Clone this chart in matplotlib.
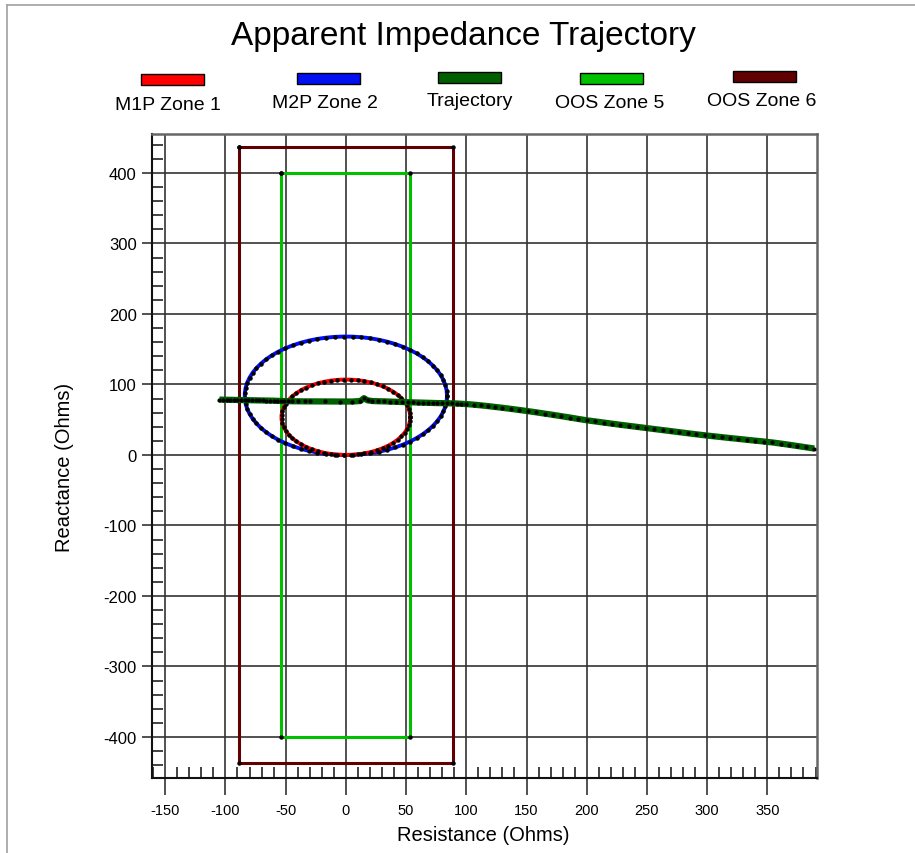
import numpy as np
import matplotlib
matplotlib.use("Agg")
import matplotlib.pyplot as plt
from matplotlib.patches import Rectangle
from matplotlib.lines import Line2D
from matplotlib.ticker import MultipleLocator

plt.rcParams['font.family'] = ['Liberation Sans', 'DejaVu Sans']
plt.rcParams['axes.unicode_minus'] = False

# mho zones: diameter along the reactance axis (ohms)
m1p_reach = 107
m2p_reach = 168

# out-of-step blinders: +/- resistance, +/- reactance (ohms)
oos5_r, oos5_x = 53.5, 400
oos6_r, oos6_x = 88.6, 437

# apparent impedance trajectory (ohms)
traj_r = [-105, -102, -99, -96, -93, -90, -87, -84, -81, -78, -75, -72, -69, -66,
          -63, -60, -57, -54, -51, -48, -45, -40, -34, -30, -17, -5, 5, 12, 15, 18,
          22, 27, 32, 37, 42, 47, 52, 56, 60, 64, 68, 72, 76, 80, 84, 88, 92, 96,
          100, 106, 112, 118, 124, 130, 137, 144, 151, 158, 165, 172, 179, 186,
          193, 200, 207, 214, 221, 228, 235, 242, 249, 256, 263, 270, 277, 284,
          291, 298, 305, 312, 319, 326, 333, 340, 347, 354, 361, 368, 375, 382, 389]
traj_x = [78.5, 78.4, 78.3, 78.2, 78.1, 78.0, 77.9, 77.8, 77.7, 77.6, 77.5, 77.4,
          77.3, 77.2, 77.1, 77.0, 76.8, 76.6, 76.4, 76.3, 76.2, 76.1, 76.0, 76.0,
          75.9, 75.8, 75.8, 76.5, 80.5, 77.5, 76.5, 76.2, 76.0, 75.7, 75.4, 75.1,
          74.8, 74.6, 74.4, 74.2, 74.0, 73.8, 73.6, 73.5, 73.4, 73.2, 73.0, 72.6,
          72.2, 71.4, 70.4, 69.3, 68.1, 66.9, 65.4, 63.8, 62.2, 60.5, 58.7, 56.9,
          55.0, 53.1, 51.1, 49.2, 47.6, 46.0, 44.4, 42.8, 41.3, 39.8, 38.3, 36.8,
          35.3, 33.8, 32.3, 30.8, 29.3, 27.9, 26.6, 25.3, 24.0, 22.8, 21.5, 20.3,
          19.1, 17.8, 16.2, 14.5, 12.7, 10.9, 9.1]

labels = ['M1P Zone 1', 'M2P Zone 2', 'Trajectory', 'OOS Zone 5', 'OOS Zone 6']
colors = ['#ff0000', '#0010f0', '#006000', '#00c000', '#600000']

fig = plt.figure(figsize=(9.15, 8.54), dpi=100)
ax = fig.add_axes([0.1661, 0.0882, 0.7265, 0.7541])


def mho(reach, n):
    t = np.linspace(0, 2 * np.pi, n)
    return reach / 2 * np.cos(t), reach / 2 + reach / 2 * np.sin(t)


def blinder(r, x):
    return [-r, r, r, -r, -r], [x, x, -x, -x, x]


# zone 6 and zone 5 rectangles
bx, by = blinder(oos6_r, oos6_x)
ax.plot(bx, by, color=colors[4], lw=2.2, zorder=3)
ax.plot(bx, by, 'o', color='black', ms=2.2, zorder=3.1)
bx, by = blinder(oos5_r, oos5_x)
ax.plot(bx, by, color=colors[3], lw=2.2, zorder=3)
ax.plot(bx, by, 'o', color='black', ms=2.2, zorder=3.1)

# mho circles
cx, cy = mho(m2p_reach, 72)
ax.plot(cx, cy, color=colors[1], lw=2.8, zorder=4)
ax.plot(cx, cy, 'o', color='black', ms=2.2, zorder=4.1)

ax.plot(traj_r, traj_x, color=colors[2], lw=4.5, solid_capstyle='butt', zorder=5)
ax.plot(traj_r, traj_x, 'o', color='black', ms=2.0, zorder=5.1)

cx, cy = mho(m1p_reach, 60)
ax.plot(cx, cy, color=colors[0], lw=2.8, zorder=4)
ax.plot(cx, cy, 'o', color='black', ms=2.2, zorder=4.1)

ax.set_xlim(-161, 391)
ax.set_ylim(-457.7, 455.7)
ax.xaxis.set_major_locator(MultipleLocator(50))
ax.xaxis.set_minor_locator(MultipleLocator(10))
ax.yaxis.set_major_locator(MultipleLocator(100))
ax.yaxis.set_minor_locator(MultipleLocator(20))
ax.grid(True, which='major', color='#333333', lw=1.2, zorder=1)

ax.tick_params(axis='x', which='major', direction='out', length=12, width=1.2,
               color='#333333', labelsize=10.5, pad=6)
ax.tick_params(axis='y', which='major', direction='out', length=7, width=1.2,
               color='#333333', labelsize=12, pad=4)
ax.tick_params(axis='both', which='minor', direction='in', length=8, width=1.2,
               color='#222222')

for s in ['left', 'bottom']:
    ax.spines[s].set_color('#111111')
    ax.spines[s].set_linewidth(1.5)
for s in ['top', 'right']:
    ax.spines[s].set_color('#666666')
    ax.spines[s].set_linewidth(1.8)

fig.text(0.506, 1 - 36 / 854, 'Apparent Impedance Trajectory', ha='center',
         va='center', fontsize=24)
fig.text(483 / 915, 1 - 836 / 854, 'Resistance (Ohms)', ha='center', va='center',
         fontsize=14.5)
fig.text(65 / 915, 1 - 467 / 854, 'Reactance (Ohms)', ha='center', va='center',
         rotation=90, fontsize=14.5)

# legend: colour swatch above each label
rect_x = [141, 297, 438, 580, 733]
rect_y = [75, 74, 73, 74, 72]
text_x = [168, 325, 470, 610, 762]
text_y = [105, 103, 102, 104, 102]
for i in range(5):
    fig.add_artist(Rectangle((rect_x[i] / 915, 1 - (rect_y[i] + 11) / 854),
                             63 / 915, 11 / 854, facecolor=colors[i],
                             edgecolor='black', lw=1.0))
    fig.text(text_x[i] / 915, 1 - text_y[i] / 854, labels[i], ha='center',
             va='center', fontsize=14)

# window border
fig.add_artist(Line2D([6.5 / 915, 1], [1 - 5.5 / 854, 1 - 5.5 / 854],
                      color='#a0a0a0', lw=1.2))
fig.add_artist(Line2D([6.5 / 915, 6.5 / 915], [0, 1 - 5.5 / 854],
                      color='#a0a0a0', lw=1.2))

fig.savefig('out.png', dpi=100)
